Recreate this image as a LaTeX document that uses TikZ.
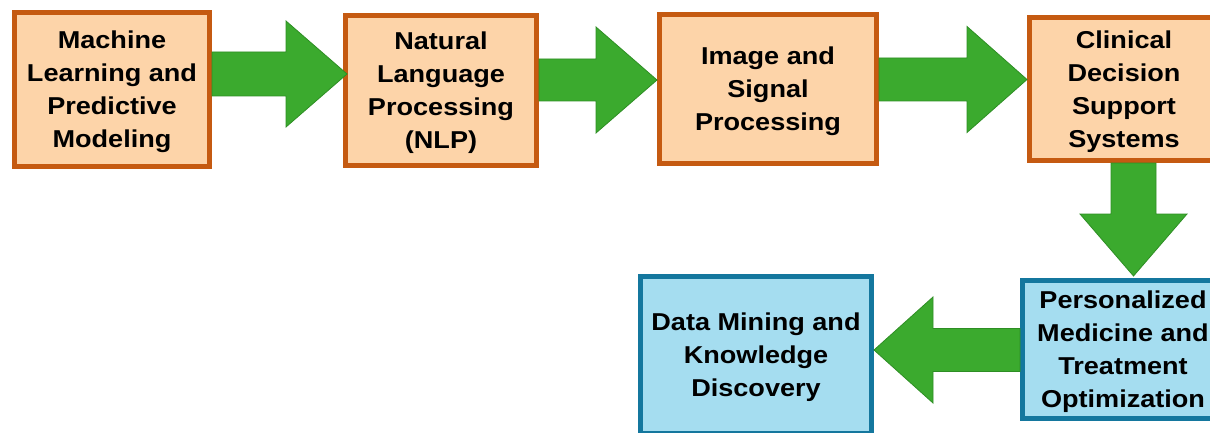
\documentclass[tikz,border=0pt]{standalone}
\usepackage{fontspec}
\setmainfont{Liberation Sans}[FakeStretch=1.11]
\usetikzlibrary{calc}
\definecolor{ofill}{HTML}{FDD4A9}
\definecolor{odraw}{HTML}{C55A11}
\definecolor{bfill}{HTML}{A5DDF0}
\definecolor{bdraw}{HTML}{14779E}
\definecolor{gfill}{HTML}{3BAA2E}
\definecolor{gdraw}{HTML}{2E8E24}
\tikzset{
  boxbase/.style={rectangle, line width=5pt, outer sep=2.5pt, inner sep=0pt},
  obox/.style={boxbase, fill=ofill, draw=odraw},
  bbox/.style={boxbase, fill=bfill, draw=bdraw},
  boxtext/.style={align=center, inner sep=0pt, yshift=-2.5pt,
    font=\fontsize{24.4}{33}\selectfont\bfseries, text=black},
  fatarrow/.style={fill=gfill, draw=gdraw, line width=0.8pt, line join=miter},
}
% #1 start, #2 tip, #3 shaft half width, #4 head half width, #5 head length
\newcommand\myblockarrow[5]{%
  \path coordinate (bA) at (#1) coordinate (bB) at (#2);
  \path coordinate (bH) at ($(bB)!#5!(bA)$);
  \filldraw[fatarrow] ($(bA)!#3!90:(bB)$) -- ($(bH)!#3!90:(bB)$) -- ($(bH)!#4!90:(bB)$)
    -- (bB) -- ($(bH)!#4!-90:(bB)$) -- ($(bH)!#3!-90:(bB)$) -- ($(bA)!#3!-90:(bB)$) -- cycle;
}
\begin{document}
\begin{tikzpicture}[x=1pt,y=-1pt]
\useasboundingbox (0,0) rectangle (1210,433);
\clip (0,0) rectangle (1210,433);
\fill[white] (0,0) rectangle (1210,433);

\node[obox, minimum width=195pt, minimum height=154pt,
  label={[boxtext]center:{Machine\\Learning and\\Predictive\\Modeling}}] (m1) at (112,89.5) {};
\node[obox, minimum width=191pt, minimum height=150pt,
  label={[boxtext]center:{Natural\\Language\\Processing\\(NLP)}}] (m2) at (441,90.5) {};
\node[obox, minimum width=217pt, minimum height=149pt,
  label={[boxtext]center:{Image and\\Signal\\Processing}}] (m3) at (768,89) {};
\node[obox, minimum width=189pt, minimum height=143pt,
  label={[boxtext]center:{Clinical\\Decision\\Support\\Systems}}] (m4) at (1124,89) {};
\node[bbox, minimum width=201pt, minimum height=138pt,
  label={[boxtext]center:{Personalized\\Medicine and\\Treatment\\Optimization}}] (m5) at (1123,349.5) {};
\node[bbox, minimum width=231pt, minimum height=157pt,
  label={[boxtext]center:{Data Mining and\\Knowledge\\Discovery}}] (m6) at (756,355) {};

\myblockarrow{m1.east |- 0,74}{$(m2.west |- 0,74)+(4,0)$}{22pt}{53pt}{61pt}
\myblockarrow{m2.east |- 0,80}{m3.west |- 0,80}{21pt}{53pt}{61pt}
\myblockarrow{m3.east |- 0,79.5}{m4.west |- 0,79.5}{21.5pt}{53pt}{60pt}
\myblockarrow{m4.south -| 1133.5,0}{$(m5.north -| 1133.5,0)+(0,-2)$}{22.5pt}{53.5pt}{62pt}
\myblockarrow{m5.west |- 0,350}{m6.east |- 0,350}{21.5pt}{53pt}{59pt}
\end{tikzpicture}
\end{document}
